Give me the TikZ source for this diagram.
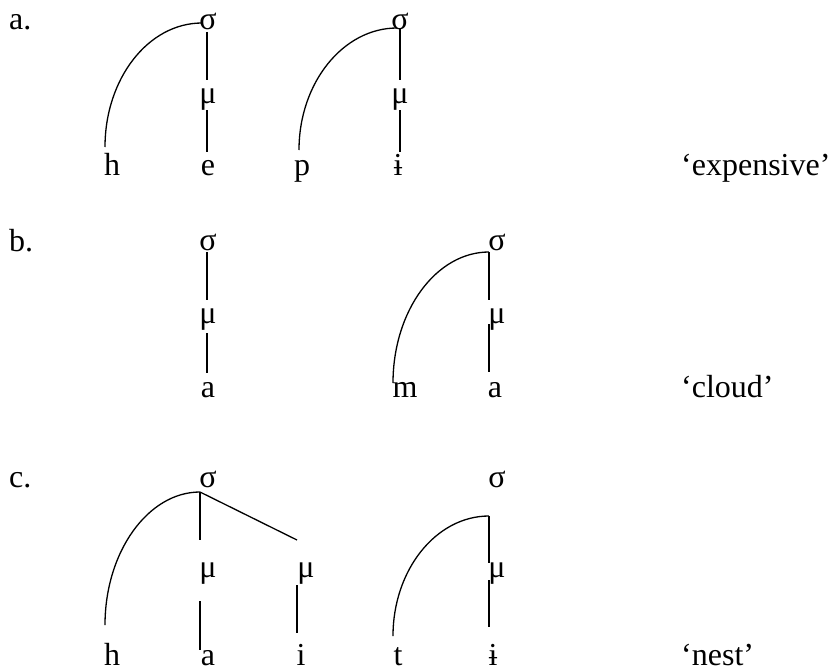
\documentclass[tikz,border=0pt]{standalone}
\usepackage{fontspec}
\setmainfont{Liberation Serif}
\usetikzlibrary{calc}
\begin{document}
\begin{tikzpicture}[x=1pt,y=-1pt,
  lbl/.style={anchor=base,inner sep=0pt,font=\fontsize{32}{38}\selectfont},
  tag/.style={anchor=base west,inner sep=0pt,font=\fontsize{32}{38}\selectfont},
  tie/.style={line width=1.3pt}]
\useasboundingbox (0,0) rectangle (830,669);
% ---------- row a ----------
\node[tag] (la) at (9,30) {a.};
\node[lbl] (sA1) at (208,30) {σ};
\node[lbl] (mA1) at (208,103) {μ};
\node[lbl] (hA) at (112,175) {h};
\node[lbl] (eA) at (208,175) {e};
\node[lbl] (sA2) at (400,30) {σ};
\node[lbl] (mA2) at (400,103) {μ};
\node[lbl] (pA) at (302,175) {p};
\node[lbl] (iA) at (398,175) {ɨ};
\node[tag] (gA) at (681,175) {‘expensive’};
\draw[tie] ($(hA.base)+(-7,-28)$) .. controls +(0,-68) and +(-54,0) .. ($(sA1.base)+(-6,-7)$);
\draw[tie] ($(sA1.base)+(-1,2)$) -- ($(mA1.base)+(-1,-23)$);
\draw[tie] ($(mA1.base)+(-1,7)$) -- ($(eA.base)+(-1,-23)$);
\draw[tie] ($(pA.base)+(-3,-25)$) .. controls +(0,-67) and +(-54,0) .. ($(sA2.base)+(-3,-2)$);
\draw[tie] ($(sA2.base)+(0,-2)$) -- ($(mA2.base)+(0,-23)$);
\draw[tie] ($(mA2.base)+(0,7)$) -- ($(iA.base)+(2,-23)$);
% ---------- row b ----------
\node[tag] (lb) at (9,251) {b.};
\node[lbl] (sB1) at (208,250) {σ};
\node[lbl] (mB1) at (208,323) {μ};
\node[lbl] (aB1) at (208,397) {a};
\node[lbl] (sB2) at (497,250) {σ};
\node[lbl] (mB2) at (497,323) {μ};
\node[lbl] (mmB) at (405,397) {m};
\node[lbl] (aB2) at (495,397) {a};
\node[tag] (gB) at (681,397) {‘cloud’};
\draw[tie] ($(sB1.base)+(-1,2)$) -- ($(mB1.base)+(-1,-23)$);
\draw[tie] ($(mB1.base)+(-1,10)$) -- ($(aB1.base)+(-1,-24)$);
\draw[tie] ($(mmB.base)+(-12,-14)$) .. controls +(0,-72) and +(-53,0) .. ($(sB2.base)+(-8,2)$);
\draw[tie] ($(sB2.base)+(-8,2)$) -- ($(mB2.base)+(-8,-23)$);
\draw[tie] ($(mB2.base)+(-8,1)$) -- ($(aB2.base)+(-6,-25)$);
% ---------- row c ----------
\node[tag] (lc) at (9,487) {c.};
\node[lbl] (sC1) at (208,487) {σ};
\node[lbl] (mC1) at (208,577) {μ};
\node[lbl] (mC2) at (306,577) {μ};
\node[lbl] (hC) at (112,665) {h};
\node[lbl] (aC) at (208,665) {a};
\node[lbl] (iC) at (301,665) {i};
\node[lbl] (sC2) at (497,487) {σ};
\node[lbl] (mC3) at (497,577) {μ};
\node[lbl] (tC) at (398,665) {t};
\node[lbl] (iC2) at (493,665) {ɨ};
\node[tag] (gC) at (681,665) {‘nest’};
\draw[tie] ($(hC.base)+(-7,-40)$) .. controls +(0,-73) and +(-52,0) .. ($(sC1.base)+(-8,5)$);
\draw[tie] ($(sC1.base)+(-8,5)$) -- ($(mC1.base)+(-8,-37)$);
\draw[tie] ($(sC1.base)+(-8,5)$) -- ($(mC2.base)+(-9,-37)$);
\draw[tie] ($(mC1.base)+(-8,24)$) -- ($(aC.base)+(-8,-15)$);
\draw[tie] ($(mC2.base)+(-9,8)$) -- ($(iC.base)+(-4,-32)$);
\draw[tie] ($(tC.base)+(-5,-29)$) .. controls +(0,-66) and +(-53,0) .. ($(sC2.base)+(-8,29)$);
\draw[tie] ($(sC2.base)+(-8,29)$) -- ($(mC3.base)+(-8,-14)$);
\draw[tie] ($(mC3.base)+(-8,3)$) -- ($(iC2.base)+(-4,-38)$);
\end{tikzpicture}
\end{document}
